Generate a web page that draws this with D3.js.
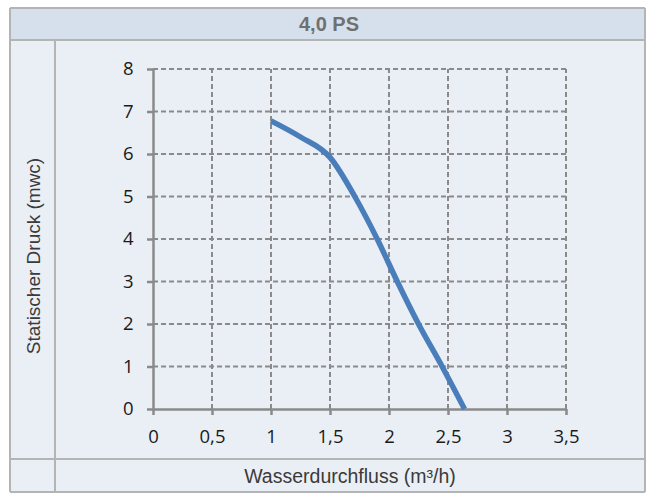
<!DOCTYPE html>
<html><head><meta charset="utf-8">
<script src="https://cdn.jsdelivr.net/npm/d3@7"></script>
<style>body{margin:0;background:#fff;}svg{display:block;}</style>
</head><body>
<svg id="c" width="649" height="493"></svg>
<script>
const title = "4,0 PS";
const xTitle = "Wasserdurchfluss (m³/h)";
const yTitle = "Statischer Druck (mwc)";
const flow = [1, 1.25, 1.5, 1.71, 1.9, 2.07, 2.25, 2.45, 2.64];
const pressure = [6.78, 6.4, 5.92, 5.0, 4.0, 3.0, 2.0, 1.0, 0];
const xTicks = [0, 0.5, 1, 1.5, 2, 2.5, 3, 3.5];
const xTickLabels = ["0", "0,5", "1", "1,5", "2", "2,5", "3", "3,5"];
const yTicks = [0, 1, 2, 3, 4, 5, 6, 7, 8];

const svg = d3.select("#c");
const font = "'Open Sans', 'Noto Sans', sans-serif";
const font2 = "'Liberation Sans', Arial, sans-serif";
const L = 10, R = 645, T = 8, B = 492, colX = 55, titleB = 40, rowB = 459;
const border = "#b4b4b4";

svg.append("rect").attr("x", L).attr("y", T).attr("width", R - L).attr("height", B - T).attr("fill", "#eaeff6");
svg.append("rect").attr("x", L).attr("y", T).attr("width", R - L).attr("height", titleB - T).attr("fill", "#d6e0ec");
const lines = [[L, T, R, T], [L, T, L, B], [R, T, R, B], [L, titleB, R, titleB], [L, rowB, R, rowB], [colX, titleB, colX, B], [L, B, R, B]];
svg.selectAll("line.frame").data(lines).join("line").attr("class", "frame")
  .attr("x1", d => d[0]).attr("y1", d => d[1]).attr("x2", d => d[2]).attr("y2", d => d[3])
  .attr("stroke", border).attr("stroke-width", 2);

svg.append("text").attr("x", 329).attr("y", 31).attr("text-anchor", "middle")
  .attr("font-family", "'Liberation Sans Narrow', 'Liberation Sans', sans-serif").attr("font-size", 20)
  .attr("font-weight", "bold").attr("fill", "#707070").text(title);

const x = d3.scaleLinear().domain([0, 3.5]).range([153, 566]);
const y = d3.scaleLinear().domain([0, 8]).range([409, 69]);
const grey = "#8a8a8a";

const g = svg.append("g");
g.selectAll("line.hg").data(yTicks.filter(d => d > 0)).join("line")
  .attr("x1", x(0)).attr("x2", x(3.5)).attr("y1", d => y(d)).attr("y2", d => y(d))
  .attr("stroke", grey).attr("stroke-width", 2).attr("stroke-dasharray", "5,3");
g.selectAll("line.vg").data(xTicks.filter(d => d > 0)).join("line")
  .attr("x1", d => x(d)).attr("x2", d => x(d)).attr("y1", y(0)).attr("y2", y(8))
  .attr("stroke", grey).attr("stroke-width", 2).attr("stroke-dasharray", "5,3");

const xa = svg.append("g").attr("transform", `translate(0,${y(0)})`)
  .call(d3.axisBottom(x).tickValues(xTicks).tickFormat((d, i) => xTickLabels[i]).tickSize(6).tickPadding(15).tickSizeOuter(0));
const ya = svg.append("g").attr("transform", `translate(${x(0)},0)`)
  .call(d3.axisLeft(y).tickValues(yTicks).tickSize(6).tickPadding(13.5).tickSizeOuter(0));
[xa, ya].forEach(a => {
  a.select(".domain").attr("stroke", grey).attr("stroke-width", 2.5);
  a.selectAll(".tick line").attr("stroke", grey).attr("stroke-width", 2.5);
  a.selectAll(".tick text").attr("font-family", font).attr("font-size", 18.5).attr("fill", "#1a1a1a");
});

const data = flow.map((f, i) => [f, pressure[i]]);
svg.append("path").datum(data)
  .attr("d", d3.line().x(d => x(d[0])).y(d => y(d[1])).curve(d3.curveMonotoneX))
  .attr("fill", "none").attr("stroke", "#4a7ebb").attr("stroke-width", 5.5).attr("stroke-linejoin", "round");

svg.append("text").attr("transform", `translate(40,256) rotate(-90)`).attr("text-anchor", "middle")
  .attr("font-family", font2).attr("font-size", 19).attr("fill", "#3a3a3a").text(yTitle);
svg.append("text").attr("x", 350).attr("y", 483).attr("text-anchor", "middle")
  .attr("font-family", font2).attr("font-size", 19.5).attr("fill", "#3a3a3a").text(xTitle);
</script>
</body></html>
